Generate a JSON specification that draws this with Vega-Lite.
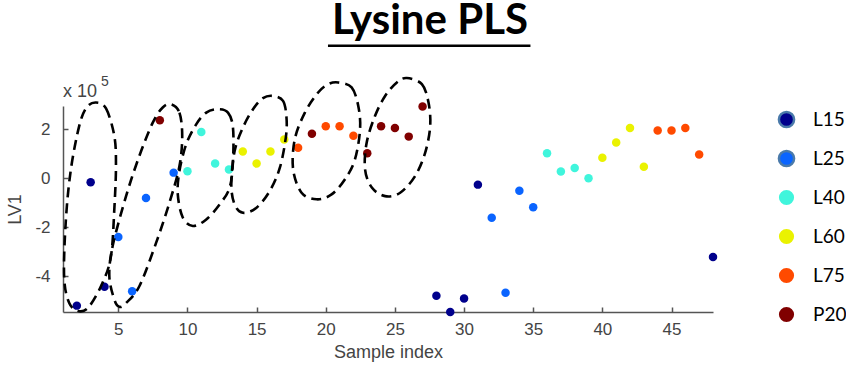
{
  "$schema": "https://vega.github.io/schema/vega-lite/v6.json",
  "width": 650,
  "height": 206,
  "autosize": {"type": "none"},
  "padding": {"left": 63, "top": 106, "right": 133, "bottom": 54},
  "background": "white",
  "config": {"view": {"stroke": null}, "font": "Liberation Sans"},
  "title": {"text": "Lysine PLS", "font": "Lato", "fontSize": 42, "fontWeight": "bold", "color": "black", "anchor": "middle", "dx": 42, "dy": 37, "baseline": "alphabetic", "offset": 5},
  "datasets": {
    "points": [
      {"sample": 2, "LV1": -5.20, "group": "L15"},
      {"sample": 3, "LV1": -0.16, "group": "L15"},
      {"sample": 4, "LV1": -4.43, "group": "L15"},
      {"sample": 5, "LV1": -2.40, "group": "L25"},
      {"sample": 6, "LV1": -4.61, "group": "L25"},
      {"sample": 7, "LV1": -0.81, "group": "L25"},
      {"sample": 8, "LV1": 2.37, "group": "P20"},
      {"sample": 9, "LV1": 0.23, "group": "L25"},
      {"sample": 10, "LV1": 0.29, "group": "L40"},
      {"sample": 11, "LV1": 1.89, "group": "L40"},
      {"sample": 12, "LV1": 0.60, "group": "L40"},
      {"sample": 13, "LV1": 0.36, "group": "L40"},
      {"sample": 14, "LV1": 1.09, "group": "L60"},
      {"sample": 15, "LV1": 0.60, "group": "L60"},
      {"sample": 16, "LV1": 1.09, "group": "L60"},
      {"sample": 17, "LV1": 1.58, "group": "L60"},
      {"sample": 18, "LV1": 1.25, "group": "L75"},
      {"sample": 19, "LV1": 1.82, "group": "P20"},
      {"sample": 20, "LV1": 2.12, "group": "L75"},
      {"sample": 21, "LV1": 2.12, "group": "L75"},
      {"sample": 22, "LV1": 1.74, "group": "L75"},
      {"sample": 23, "LV1": 1.02, "group": "P20"},
      {"sample": 24, "LV1": 2.12, "group": "P20"},
      {"sample": 25, "LV1": 2.05, "group": "P20"},
      {"sample": 26, "LV1": 1.70, "group": "P20"},
      {"sample": 27, "LV1": 2.93, "group": "P20"},
      {"sample": 28, "LV1": -4.80, "group": "L15"},
      {"sample": 29, "LV1": -5.46, "group": "L15"},
      {"sample": 30, "LV1": -4.91, "group": "L15"},
      {"sample": 31, "LV1": -0.26, "group": "L15"},
      {"sample": 32, "LV1": -1.61, "group": "L25"},
      {"sample": 33, "LV1": -4.67, "group": "L25"},
      {"sample": 34, "LV1": -0.51, "group": "L25"},
      {"sample": 35, "LV1": -1.18, "group": "L25"},
      {"sample": 36, "LV1": 1.02, "group": "L40"},
      {"sample": 37, "LV1": 0.28, "group": "L40"},
      {"sample": 38, "LV1": 0.42, "group": "L40"},
      {"sample": 39, "LV1": 0.00, "group": "L40"},
      {"sample": 40, "LV1": 0.84, "group": "L60"},
      {"sample": 41, "LV1": 1.46, "group": "L60"},
      {"sample": 42, "LV1": 2.05, "group": "L60"},
      {"sample": 43, "LV1": 0.47, "group": "L60"},
      {"sample": 44, "LV1": 1.95, "group": "L75"},
      {"sample": 45, "LV1": 1.95, "group": "L75"},
      {"sample": 46, "LV1": 2.05, "group": "L75"},
      {"sample": 47, "LV1": 0.97, "group": "L75"},
      {"sample": 48, "LV1": -3.21, "group": "L15"}
    ],
    "ellipses": [
      {"e": 1, "i": 0, "sample": 3.38, "LV1": 3.09},
      {"e": 1, "i": 1, "sample": 4.11, "LV1": 2.85},
      {"e": 1, "i": 2, "sample": 4.71, "LV1": 1.73},
      {"e": 1, "i": 3, "sample": 4.83, "LV1": 0.51},
      {"e": 1, "i": 4, "sample": 4.71, "LV1": -1.27},
      {"e": 1, "i": 5, "sample": 4.47, "LV1": -3.18},
      {"e": 1, "i": 6, "sample": 3.86, "LV1": -4.27},
      {"e": 1, "i": 7, "sample": 2.90, "LV1": -5.23},
      {"e": 1, "i": 8, "sample": 2.17, "LV1": -5.43},
      {"e": 1, "i": 9, "sample": 1.45, "LV1": -5.09},
      {"e": 1, "i": 10, "sample": 1.08, "LV1": -4.00},
      {"e": 1, "i": 11, "sample": 1.21, "LV1": -1.68},
      {"e": 1, "i": 12, "sample": 1.57, "LV1": 0.36},
      {"e": 1, "i": 13, "sample": 2.17, "LV1": 2.13},
      {"e": 1, "i": 14, "sample": 2.70, "LV1": 2.89},
      {"e": 2, "i": 0, "sample": 8.82, "LV1": 3.02},
      {"e": 2, "i": 1, "sample": 9.42, "LV1": 2.68},
      {"e": 2, "i": 2, "sample": 9.62, "LV1": 1.73},
      {"e": 2, "i": 3, "sample": 9.42, "LV1": 0.50},
      {"e": 2, "i": 4, "sample": 8.70, "LV1": -0.99},
      {"e": 2, "i": 5, "sample": 7.73, "LV1": -2.64},
      {"e": 2, "i": 6, "sample": 6.52, "LV1": -4.41},
      {"e": 2, "i": 7, "sample": 5.56, "LV1": -5.09},
      {"e": 2, "i": 8, "sample": 5.07, "LV1": -5.25},
      {"e": 2, "i": 9, "sample": 4.71, "LV1": -4.95},
      {"e": 2, "i": 10, "sample": 4.35, "LV1": -4.00},
      {"e": 2, "i": 11, "sample": 4.59, "LV1": -2.77},
      {"e": 2, "i": 12, "sample": 5.56, "LV1": -0.73},
      {"e": 2, "i": 13, "sample": 6.52, "LV1": 0.91},
      {"e": 2, "i": 14, "sample": 7.49, "LV1": 2.27},
      {"e": 2, "i": 15, "sample": 8.21, "LV1": 2.89},
      {"e": 3, "i": 0, "sample": 12.20, "LV1": 2.82},
      {"e": 3, "i": 1, "sample": 12.93, "LV1": 2.68},
      {"e": 3, "i": 2, "sample": 13.29, "LV1": 2.07},
      {"e": 3, "i": 3, "sample": 13.29, "LV1": 0.70},
      {"e": 3, "i": 4, "sample": 13.05, "LV1": -0.38},
      {"e": 3, "i": 5, "sample": 12.32, "LV1": -1.07},
      {"e": 3, "i": 6, "sample": 11.36, "LV1": -1.68},
      {"e": 3, "i": 7, "sample": 10.39, "LV1": -1.95},
      {"e": 3, "i": 8, "sample": 9.66, "LV1": -1.60},
      {"e": 3, "i": 9, "sample": 9.30, "LV1": -0.66},
      {"e": 3, "i": 10, "sample": 9.42, "LV1": 0.30},
      {"e": 3, "i": 11, "sample": 9.91, "LV1": 1.39},
      {"e": 3, "i": 12, "sample": 10.63, "LV1": 2.20},
      {"e": 3, "i": 13, "sample": 11.36, "LV1": 2.68},
      {"e": 4, "i": 0, "sample": 16.19, "LV1": 3.36},
      {"e": 4, "i": 1, "sample": 16.91, "LV1": 3.16},
      {"e": 4, "i": 2, "sample": 17.16, "LV1": 2.48},
      {"e": 4, "i": 3, "sample": 17.11, "LV1": 1.66},
      {"e": 4, "i": 4, "sample": 16.68, "LV1": 0.43},
      {"e": 4, "i": 5, "sample": 15.95, "LV1": -0.52},
      {"e": 4, "i": 6, "sample": 14.99, "LV1": -1.20},
      {"e": 4, "i": 7, "sample": 14.01, "LV1": -1.41},
      {"e": 4, "i": 8, "sample": 13.41, "LV1": -1.07},
      {"e": 4, "i": 9, "sample": 13.17, "LV1": -0.25},
      {"e": 4, "i": 10, "sample": 13.41, "LV1": 1.11},
      {"e": 4, "i": 11, "sample": 14.01, "LV1": 2.07},
      {"e": 4, "i": 12, "sample": 14.74, "LV1": 2.82},
      {"e": 4, "i": 13, "sample": 15.46, "LV1": 3.27},
      {"e": 5, "i": 0, "sample": 20.90, "LV1": 3.91},
      {"e": 5, "i": 1, "sample": 21.87, "LV1": 3.71},
      {"e": 5, "i": 2, "sample": 22.35, "LV1": 2.95},
      {"e": 5, "i": 3, "sample": 22.48, "LV1": 2.00},
      {"e": 5, "i": 4, "sample": 22.11, "LV1": 0.77},
      {"e": 5, "i": 5, "sample": 21.39, "LV1": -0.04},
      {"e": 5, "i": 6, "sample": 20.42, "LV1": -0.66},
      {"e": 5, "i": 7, "sample": 19.34, "LV1": -0.86},
      {"e": 5, "i": 8, "sample": 18.25, "LV1": -0.59},
      {"e": 5, "i": 9, "sample": 17.64, "LV1": 0.36},
      {"e": 5, "i": 10, "sample": 17.76, "LV1": 1.59},
      {"e": 5, "i": 11, "sample": 18.49, "LV1": 2.68},
      {"e": 5, "i": 12, "sample": 19.45, "LV1": 3.50},
      {"e": 5, "i": 13, "sample": 20.18, "LV1": 3.84},
      {"e": 6, "i": 0, "sample": 25.86, "LV1": 4.09},
      {"e": 6, "i": 1, "sample": 26.95, "LV1": 3.84},
      {"e": 6, "i": 2, "sample": 27.43, "LV1": 3.09},
      {"e": 6, "i": 3, "sample": 27.55, "LV1": 2.13},
      {"e": 6, "i": 4, "sample": 27.19, "LV1": 1.05},
      {"e": 6, "i": 5, "sample": 26.46, "LV1": 0.09},
      {"e": 6, "i": 6, "sample": 25.38, "LV1": -0.59},
      {"e": 6, "i": 7, "sample": 24.29, "LV1": -0.73},
      {"e": 6, "i": 8, "sample": 23.33, "LV1": -0.38},
      {"e": 6, "i": 9, "sample": 22.84, "LV1": 0.37},
      {"e": 6, "i": 10, "sample": 22.96, "LV1": 1.46},
      {"e": 6, "i": 11, "sample": 23.56, "LV1": 2.54},
      {"e": 6, "i": 12, "sample": 24.29, "LV1": 3.36},
      {"e": 6, "i": 13, "sample": 25.14, "LV1": 3.91}
    ],
    "notes": [
      {"label": "x 10", "sample": 1, "LV1": 3.30}
    ],
    "exponent": [
      {"label": "5", "sample": 3.75, "LV1": 3.75}
    ],
    "underline": [
      {"from": 20.16, "to": 34.8, "LV1": 5.41}
    ]
  },
  "layer": [
    {
      "data": {"name": "points"},
      "mark": {"type": "circle", "size": 72, "opacity": 1},
      "encoding": {
        "x": {
          "field": "sample", "type": "quantitative",
          "scale": {"domain": [1, 48], "nice": false, "zero": false},
          "axis": {
            "title": "Sample index", "values": [5, 10, 15, 20, 25, 30, 35, 40, 45],
            "grid": false, "tickSize": -5, "labelPadding": 14,
            "domainColor": "#555555", "tickColor": "#555555", "domainWidth": 1.5, "tickWidth": 1.5,
            "labelFont": "Liberation Sans", "labelFontSize": 17, "labelColor": "#444444",
            "titleFont": "Liberation Sans", "titleFontSize": 18, "titleFontWeight": "normal", "titleColor": "#444444", "titlePadding": 6,
            "labelExpr": "'' + datum.value"
          }
        },
        "y": {
          "field": "LV1", "type": "quantitative",
          "scale": {"domain": [-5.46, 2.95], "nice": false, "zero": false},
          "axis": {
            "title": "LV1", "values": [-4, -2, 0, 2],
            "grid": false, "tickSize": -5, "labelPadding": 18,
            "domainColor": "#555555", "tickColor": "#555555", "domainWidth": 1.5, "tickWidth": 1.5,
            "labelFont": "Liberation Sans", "labelFontSize": 17, "labelColor": "#444444",
            "titleFont": "Liberation Sans", "titleFontSize": 18, "titleFontWeight": "normal", "titleColor": "#444444", "titlePadding": 10,
            "labelExpr": "'' + datum.value"
          }
        },
        "color": {
          "field": "group", "type": "nominal",
          "scale": {
            "domain": ["L15", "L25", "L40", "L60", "L75", "P20"],
            "range": ["#00008c", "#0a64ff", "#40f5dc", "#eaf200", "#ff4a00", "#800000"]
          },
          "legend": {
            "orient": "none", "legendX": 714, "legendY": 4, "title": null,
            "symbolType": "circle", "symbolSize": 230, "symbolStrokeWidth": 2.5, "symbolOpacity": 1,
            "labelFont": "Lato", "labelFontSize": 19, "labelColor": "black", "labelOffset": 17,
            "rowPadding": 12, "padding": 0,
            "encode": {"symbols": {"update": {"stroke": {"signal": "indexof(['L15','L25'], datum.value) >= 0 ? '#4a7aaa' : 'transparent'"}}}}
          }
        }
      }
    },
    {
      "data": {"name": "ellipses"},
      "mark": {"type": "line", "interpolate": "cardinal-closed", "strokeDash": [10, 6], "strokeWidth": 2.6, "color": "black"},
      "encoding": {
        "x": {"field": "sample", "type": "quantitative"},
        "y": {"field": "LV1", "type": "quantitative"},
        "detail": {"field": "e", "type": "nominal"},
        "order": {"field": "i", "type": "quantitative"}
      }
    },
    {
      "data": {"name": "notes"},
      "mark": {"type": "text", "align": "left", "baseline": "alphabetic", "font": "Liberation Sans", "fontSize": 18, "color": "#444444"},
      "encoding": {
        "x": {"field": "sample", "type": "quantitative"},
        "y": {"field": "LV1", "type": "quantitative"},
        "text": {"field": "label"}
      }
    },
    {
      "data": {"name": "exponent"},
      "mark": {"type": "text", "align": "left", "baseline": "alphabetic", "font": "Liberation Sans", "fontSize": 14, "color": "#444444"},
      "encoding": {
        "x": {"field": "sample", "type": "quantitative"},
        "y": {"field": "LV1", "type": "quantitative"},
        "text": {"field": "label"}
      }
    },
    {
      "data": {"name": "underline"},
      "mark": {"type": "rule", "strokeWidth": 2.5, "color": "black"},
      "encoding": {
        "x": {"field": "from", "type": "quantitative"},
        "x2": {"field": "to"},
        "y": {"field": "LV1", "type": "quantitative"}
      }
    }
  ]
}
